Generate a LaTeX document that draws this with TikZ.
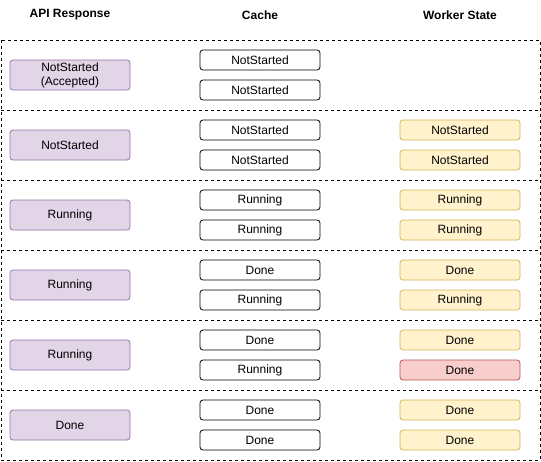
\documentclass[tikz,border=0pt]{standalone}
\usepackage{fontspec}
\setmainfont{Liberation Sans}
\definecolor{pfill}{HTML}{E1D5E7}
\definecolor{pline}{HTML}{9673A6}
\definecolor{yfill}{HTML}{FFF2CC}
\definecolor{yline}{HTML}{D6B656}
\definecolor{rfill}{HTML}{F8CECC}
\definecolor{rline}{HTML}{B85450}
\begin{document}
\begin{tikzpicture}[x=1pt,y=-1pt,
  box/.style={draw,rounded corners=3pt,minimum width=120pt,font=\fontsize{12}{14}\selectfont,inner sep=0pt,align=center,line width=0.8pt},
  api/.style={box,fill=pfill,draw=pline,minimum height=30pt},
  cache/.style={box,fill=white,draw=black,minimum height=20pt},
  worker/.style={box,fill=yfill,draw=yline,minimum height=20pt},
  failed/.style={box,fill=rfill,draw=rline,minimum height=20pt},
  head/.style={font=\bfseries\fontsize{12}{14}\selectfont},
  sep/.style={dashed,line width=0.8pt}]
\useasboundingbox (0,0) rectangle (541,461);
\node[head] (h1) at (70,15) {API Response};
\node[head] (h2) at (260,15) {Cache};
\node[head] (h3) at (460,15) {Worker State};
\draw[sep] (1,40) rectangle (540,460);
\foreach \y in {110,180,250,320,390} \draw[sep] (1,\y) -- (540,\y);
% row 1
\node[api] (a1) at (70,75) {NotStarted\\(Accepted)};
\node[cache] (c1a) at (260,60) {NotStarted};
\node[cache] (c1b) at (260,90) {NotStarted};
% row 2
\node[api] (a2) at (70,145) {NotStarted};
\node[cache] (c2a) at (260,130) {NotStarted};
\node[cache] (c2b) at (260,160) {NotStarted};
\node[worker] (w2a) at (460,130) {NotStarted};
\node[worker] (w2b) at (460,160) {NotStarted};
% row 3
\node[api] (a3) at (70,215) {Running};
\node[cache] (c3a) at (260,200) {Running};
\node[cache] (c3b) at (260,230) {Running};
\node[worker] (w3a) at (460,200) {Running};
\node[worker] (w3b) at (460,230) {Running};
% row 4
\node[api] (a4) at (70,285) {Running};
\node[cache] (c4a) at (260,270) {Done};
\node[cache] (c4b) at (260,300) {Running};
\node[worker] (w4a) at (460,270) {Done};
\node[worker] (w4b) at (460,300) {Running};
% row 5
\node[api] (a5) at (70,355) {Running};
\node[cache] (c5a) at (260,340) {Done};
\node[cache] (c5b) at (260,370) {Running};
\node[worker] (w5a) at (460,340) {Done};
\node[failed] (w5b) at (460,370) {Done};
% row 6
\node[api] (a6) at (70,425) {Done};
\node[cache] (c6a) at (260,410) {Done};
\node[cache] (c6b) at (260,440) {Done};
\node[worker] (w6a) at (460,410) {Done};
\node[worker] (w6b) at (460,440) {Done};
\end{tikzpicture}
\end{document}
